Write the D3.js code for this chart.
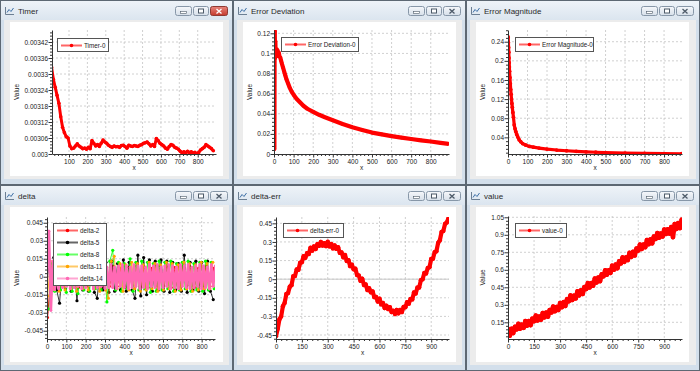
<!DOCTYPE html>
<meta charset="utf-8">
<html>
<style>
 body { margin:0; background:#fff; }
 svg { display:block; font-family:"Liberation Sans", Arial, sans-serif; }
</style>
<script src="https://d3js.org/d3.v7.min.js"></script>
<svg width="700" height="371"></svg>
<script>
// ---------- data ----------
// Timer: one sample every 10 steps starting at x=5
const timerX0 = 5, timerDX = 10;
const timerValues = [0.003325,0.00328,0.00325,0.00322,0.00319,0.00314,0.0031,0.00308,0.003065,0.00306,
 0.00303,0.00302,0.003022,0.00303,0.003038,0.00303,0.003025,0.00302,0.003022,0.003018,
 0.003025,0.00302,0.00305,0.00304,0.00303,0.003035,0.003028,0.00304,0.003052,0.003045,
 0.00304,0.003033,0.003028,0.003025,0.00303,0.003027,0.003028,0.003025,0.003032,0.003033,
 0.003028,0.003022,0.003033,0.00303,0.003028,0.003032,0.00303,0.003028,0.003033,0.003035,
 0.00304,0.003042,0.003045,0.003038,0.00303,0.003035,0.003028,0.003058,0.00305,0.00304,
 0.003035,0.00303,0.003022,0.003018,0.003028,0.003035,0.003033,0.003025,0.003022,0.003018,
 0.00301,0.003005,0.003008,0.003005,0.00301,0.003005,0.003008,0.003004,0.003006,0.003,
 0.003005,0.003015,0.00302,0.003025,0.003035,0.00303,0.003025,0.00302,0.003012];
const timerXTicks = [100,200,300,400,500,600,700,800];
const timerYTicks = [0.003,0.00306,0.00312,0.00318,0.00324,0.0033,0.00336,0.00342];

const errDevX = [1,2,3,4,5,6,7,8,9,10,12,14,16,18,20,24,28,32,36,40,46,52,58,64,72,80,90,100,
 115,130,150,170,200,230,260,300,350,400,450,500,550,600,650,700,750,800,850,890];
const errDevY = [0.118,0.005,0.11,0.122,0.095,0.105,0.112,0.098,0.104,0.1,0.097,0.104,0.1,0.103,0.099,
 0.101,0.097,0.096,0.093,0.09,0.086,0.082,0.078,0.074,0.07,0.066,0.062,0.059,
 0.055,0.052,0.048,0.045,0.042,0.039,0.0365,0.0335,0.0298,0.0265,0.0238,0.0213,0.0195,0.0178,0.0163,0.0149,
 0.0136,0.0124,0.0111,0.0101];
const errDevXTicks = [0,100,200,300,400,500,600,700,800];
const errDevYTicks = [0,0.02,0.04,0.06,0.08,0.1,0.12];

const errMagX = [1,2,3,4,5,6,7,8,10,12,14,16,18,20,22,25,28,32,36,40,45,50,57,65,75,90,110,130,160,200,
 250,300,350,400,450,500,600,700,800,890];
const errMagY = [0.25,0.238,0.228,0.218,0.206,0.196,0.187,0.178,0.165,0.152,0.14,0.13,0.12,0.111,0.103,
 0.092,0.082,0.066,0.058,0.052,0.046,0.041,0.035,0.031,0.027,0.024,0.021,0.0195,0.0175,0.0155,
 0.0135,0.012,0.0108,0.0097,0.0089,0.0082,0.0072,0.0065,0.006,0.0057];
const errMagXTicks = [0,100,200,300,400,500,600,700,800];
const errMagYTicks = [0.04,0.08,0.12,0.16,0.2,0.24];

// delta: five series, each sampled at a fixed step
const delta2X0 = 3, delta2DX = 20;
const delta2 = [-0.034,0.008,-0.009,0.007,-0.008,0.009,-0.007,0.008,-0.009,0.008,-0.008,0.009,-0.007,0.008,
 -0.009,0.007,-0.008,0.009,-0.008,0.007,-0.009,0.008,-0.007,0.009,-0.008,0.008,-0.009,0.007,-0.008,0.009,
 -0.007,0.008,-0.009,0.008,-0.008,0.009,-0.007,0.008,-0.009,0.007,-0.008,0.009,-0.008,0.007];
const delta5X0 = 5, delta5DX = 15;
const delta5 = [0.012,-0.012,0.016,-0.011,-0.022,0.011,-0.01,0.012,-0.012,0.01,-0.02,0.012,-0.011,0.013,
 -0.012,0.01,-0.013,-0.018,0.011,-0.011,0.012,-0.013,0.013,-0.012,0.011,-0.011,0.014,-0.012,0.012,-0.011,
 -0.018,0.018,-0.016,0.016,-0.015,0.014,-0.012,0.013,-0.011,0.014,-0.012,0.013,-0.013,0.012,-0.011,0.011,
 -0.012,0.018,-0.013,0.012,-0.011,0.013,-0.012,0.012,-0.014,0.013,-0.012,-0.019];
const delta8X0 = 10, delta8DX = 15;
const delta8 = [-0.027,0.011,-0.012,0.012,-0.011,0.01,-0.013,0.011,-0.012,0.012,-0.014,0.01,-0.011,0.011,
 -0.012,0.013,-0.01,0.012,-0.011,0.014,-0.021,0.013,0.022,-0.011,0.012,-0.012,0.011,-0.01,0.015,-0.012,
 0.012,-0.011,0.013,-0.01,0.012,-0.013,0.011,-0.012,0.013,-0.011,0.012,-0.01,0.013,-0.012,0.011,-0.011,
 0.012,-0.01,0.013,-0.012,0.011,-0.011,0.012,-0.012,0.013,-0.011,0.012,-0.01];
const delta11X0 = 3, delta11DX = 15;
const delta11 = [-0.016,0.013,-0.01,0.011,-0.012,0.01,-0.011,0.009,-0.01,0.011,-0.012,0.012,-0.01,0.01,
 -0.011,0.012,-0.01,0.011,-0.012,0.01,-0.011,-0.018,0.013,0.017,-0.01,0.011,-0.012,0.01,-0.011,0.012,
 -0.01,0.011,-0.012,0.01,-0.011,0.012,-0.01,0.011,-0.012,0.01,-0.011,0.012,-0.01,0.011,-0.012,0.01,
 -0.011,0.012,-0.01,0.011,-0.012,0.01,-0.011,0.012,-0.01,0.011,-0.01,0.012];
const delta14X0 = 0, delta14DX = 10;
const delta14 = [0.004,0.038,-0.028,0.013,-0.011,0.009,-0.01,0.008,-0.009,0.01,
 -0.008,0.009,-0.01,0.007,-0.009,0.01,-0.008,0.009,-0.01,0.008,
 -0.009,0.01,-0.007,0.009,-0.01,0.008,-0.009,0.011,-0.008,0.009,
 -0.01,0.008,-0.009,0.01,-0.009,0.008,-0.01,0.009,-0.008,0.01,
 -0.009,0.009,-0.01,0.008,-0.009,0.01,-0.008,0.009,-0.01,0.009,
 -0.009,0.008,-0.01,0.01,-0.008,0.009,-0.009,0.01,-0.01,0.008,
 -0.009,0.009,-0.008,0.01,-0.01,0.009,-0.009,0.008,-0.01,0.01,
 -0.008,0.009,-0.009,0.01,-0.01,0.008,-0.009,0.009,-0.008,0.01,
 -0.01,0.009,-0.009,0.008,-0.01,0.01,-0.008,0.009];
const deltaXTicks = [0,100,200,300,400,500,600,700,800];
const deltaYTicks = [-0.045,-0.03,-0.015,0,0.015,0.03,0.045];

const deltaErrX0 = 0, deltaErrDX = 10;
const deltaErr = [-0.46,-0.4,-0.322,-0.3,-0.218,-0.191,-0.12,-0.112,-0.06,-0.048,
 0.023,0.025,0.078,0.075,0.132,0.137,0.185,0.173,0.21,0.202,
 0.253,0.23,0.263,0.243,0.282,0.269,0.3,0.271,0.29,0.266,
 0.301,0.264,0.283,0.248,0.272,0.244,0.258,0.212,0.215,0.176,
 0.196,0.147,0.153,0.105,0.117,0.079,0.085,0.033,0.03,-0.013,
 0.003,-0.047,-0.042,-0.088,-0.073,-0.106,-0.098,-0.145,-0.143,-0.18,
 -0.157,-0.203,-0.192,-0.233,-0.213,-0.241,-0.225,-0.265,-0.255,-0.281,
 -0.247,-0.275,-0.247,-0.265,-0.223,-0.226,-0.185,-0.197,-0.16,-0.163,
 -0.107,-0.115,-0.067,-0.068,-0.008,-0.001,0.05,0.046,0.09,0.097,
 0.163,0.165,0.218,0.225,0.292,0.314,0.38,0.388,0.445,0.457,0.49];
const deltaErrXTicks = [0,150,300,450,600,750,900];
const deltaErrYTicks = [-0.45,-0.3,-0.15,0,0.15,0.3,0.45];

const valueX0 = 0, valueDX = 10;
const valueValues = [0.095,0.035,0.094,0.058,0.112,0.09,0.137,0.096,0.129,0.103,
 0.16,0.122,0.161,0.126,0.181,0.16,0.207,0.166,0.199,0.173,
 0.23,0.193,0.233,0.199,0.255,0.235,0.284,0.245,0.28,0.256,
 0.315,0.28,0.322,0.29,0.348,0.33,0.38,0.342,0.378,0.355,
 0.415,0.381,0.424,0.393,0.452,0.435,0.486,0.449,0.486,0.464,
 0.525,0.491,0.534,0.503,0.562,0.545,0.596,0.559,0.596,0.574,
 0.635,0.601,0.644,0.613,0.672,0.655,0.706,0.669,0.706,0.684,
 0.745,0.711,0.754,0.723,0.782,0.765,0.816,0.779,0.816,0.794,
 0.855,0.819,0.86,0.827,0.884,0.865,0.914,0.875,0.91,0.886,
 0.945,0.907,0.946,0.911,0.966,0.88,0.992,0.951,1.0,0.958,1.03];
const valueXTicks = [0,150,300,450,600,750,900];
const valueYTicks = [0.15,0.3,0.45,0.6,0.75,0.9,1.05];

// ---------- helpers ----------
const even = (x0, dx, vals) => vals.map((v,i) => [x0 + i*dx, v]);
const paired = (xs, ys) => xs.map((v,i) => [v, ys[i]]);

const panels = [
 {title:'Timer', x:0, y:0, w:233, h:185, active:true,
  plot:{left:52,right:216,top:30,bottom:154}, xDomain:[7.5,899.5], yDomain:[0.003,0.003465],
  xTicks:timerXTicks, yTicks:timerYTicks, legend:{x:57,y:38,w:52,h:14},
  series:[{name:'Timer-0', color:'#ff0000', pts:even(timerX0,timerDX,timerValues), lw:3, r:1.8}]},
 {title:'Error Deviation', x:233, y:0, w:233, h:185,
  plot:{left:41,right:216,top:30,bottom:154}, xDomain:[0,893], yDomain:[0,0.1233],
  xTicks:errDevXTicks, yTicks:errDevYTicks, legend:{x:48,y:37,w:78,h:15},
  series:[{name:'Error Deviation-0', color:'#ff0000', pts:paired(errDevX,errDevY), lw:4.2, r:1.8}]},
 {title:'Error Magnitude', x:466, y:0, w:234, h:185,
  plot:{left:42,right:216,top:30,bottom:154}, xDomain:[0,892], yDomain:[0.0052,0.2645],
  xTicks:errMagXTicks, yTicks:errMagYTicks, legend:{x:49,y:37,w:79,h:15},
  series:[{name:'Error Magnitude-0', color:'#ff0000', pts:paired(errMagX,errMagY), lw:3.2, r:1.9}]},
 {title:'delta', x:0, y:185, w:233, h:186,
  plot:{left:47,right:215,top:32,bottom:154}, xDomain:[0,869], yDomain:[-0.0519,0.0498],
  xTicks:deltaXTicks, yTicks:deltaYTicks, legend:{x:53,y:38,w:54,h:63}, zero:true,
  series:[
   {name:'delta-2', color:'#ff0000', pts:even(delta2X0,delta2DX,delta2), lw:1, r:1.5},
   {name:'delta-5', color:'#000000', pts:even(delta5X0,delta5DX,delta5), lw:0.8, r:1.6},
   {name:'delta-8', color:'#00ff00', pts:even(delta8X0,delta8DX,delta8), lw:0.8, r:1.6},
   {name:'delta-11', color:'#ffa500', pts:even(delta11X0,delta11DX,delta11), lw:0.8, r:1.5},
   {name:'delta-14', color:'#ff69b4', pts:even(delta14X0,delta14DX,delta14), lw:2.6, r:1.4}]},
 {title:'delta-err', x:233, y:185, w:233, h:186,
  plot:{left:43,right:216,top:32,bottom:154}, xDomain:[0,1003], yDomain:[-0.482,0.501],
  xTicks:deltaErrXTicks, yTicks:deltaErrYTicks, legend:{x:50,y:38,w:61,h:15}, zero:true,
  series:[{name:'delta-err-0', color:'#ff0000', pts:even(deltaErrX0,deltaErrDX,deltaErr), lw:4.2, r:2.2}]},
 {title:'value', x:466, y:185, w:234, h:186,
  plot:{left:42,right:216,top:31,bottom:154}, xDomain:[0,1002], yDomain:[0.007,1.061],
  xTicks:valueXTicks, yTicks:valueYTicks, legend:{x:49,y:38,w:52,h:15},
  series:[{name:'value-0', color:'#ff0000', pts:even(valueX0,valueDX,valueValues), lw:4.6, r:2.3}]}
];

const svg = d3.select('svg');
const defs = svg.append('defs');
const tg = defs.append('linearGradient').attr('id','titleGrad').attr('x1',0).attr('y1',0).attr('x2',0).attr('y2',1);
tg.append('stop').attr('offset','0%').attr('stop-color','#eef3f8');
tg.append('stop').attr('offset','100%').attr('stop-color','#dbe5ef');
const bg = defs.append('linearGradient').attr('id','btnGrad').attr('x1',0).attr('y1',0).attr('x2',0).attr('y2',1);
bg.append('stop').attr('offset','0%').attr('stop-color','#f6f8fb');
bg.append('stop').attr('offset','100%').attr('stop-color','#d6dfe9');
const rg = defs.append('linearGradient').attr('id','closeGrad').attr('x1',0).attr('y1',0).attr('x2',0).attr('y2',1);
rg.append('stop').attr('offset','0%').attr('stop-color','#e8867c');
rg.append('stop').attr('offset','100%').attr('stop-color','#c4392c');

// minor tick values between (and outside) the major ones
function minors(ticks, domain) {
  const step = (ticks[1]-ticks[0])/5, out = [];
  const lo = Math.min(domain[0],domain[1]), hi = Math.max(domain[0],domain[1]);
  let v = ticks[0] - step*Math.floor((ticks[0]-lo)/step);
  for (; v <= hi + 1e-12; v += step) {
    if (!ticks.some(t => Math.abs(t-v) < step*0.01)) out.push(v);
  }
  return out;
}

function button(g, x, w, kind, active) {
  const b = g.append('g').attr('transform',`translate(${x},6)`);
  const red = kind === 'close' && active;
  b.append('rect').attr('x',0.5).attr('y',0.5).attr('width',w-1).attr('height',9).attr('rx',2)
    .attr('fill', red ? 'url(#closeGrad)' : 'url(#btnGrad)')
    .attr('stroke', red ? '#8e3a33' : '#8797a8');
  const cx = w/2;
  if (kind === 'min') {
    b.append('rect').attr('x',cx-3).attr('y',5.5).attr('width',6).attr('height',2)
      .attr('fill','#fff').attr('stroke','#4d5a68').attr('stroke-width',0.6);
  } else if (kind === 'max') {
    b.append('rect').attr('x',cx-2.5).attr('y',3).attr('width',5).attr('height',4)
      .attr('fill','#fff').attr('stroke','#4d5a68').attr('stroke-width',1);
  } else {
    const c = red ? '#fff' : '#4d5a68';
    b.append('path').attr('d',`M${cx-2.5},3 L${cx+2.5},7.5 M${cx+2.5},3 L${cx-2.5},7.5`)
      .attr('stroke',c).attr('stroke-width',1.3);
  }
}

function drawPanel(c, idx) {
  const g = svg.append('g').attr('transform',`translate(${c.x},${c.y})`);
  // window chrome
  g.append('rect').attr('x',0.5).attr('y',0.5).attr('width',c.w-1).attr('height',c.h-1)
    .attr('fill','#d3dfeb').attr('stroke','#5d6873');
  g.append('rect').attr('x',1).attr('y',1).attr('width',c.w-2).attr('height',19).attr('fill','url(#titleGrad)');
  g.append('rect').attr('x',4).attr('y',20).attr('width',c.w-8).attr('height',c.h-26).attr('fill','#ececec');
  g.append('rect').attr('x',10).attr('y',22).attr('width',213).attr('height',c.h-31).attr('fill','#fff');
  // icon + title
  g.append('path').attr('d','M5.5,7 V14.5 H14').attr('fill','none').attr('stroke','#6c7f93').attr('stroke-width',1);
  g.append('path').attr('d','M7,12.5 L9,9.5 L11,11.5 L13.5,8').attr('fill','none').attr('stroke','#3d6fa6').attr('stroke-width',1);
  g.append('text').attr('x',18).attr('y',14).attr('font-size',8).attr('fill','#2a2a2a').text(c.title);
  button(g,175,17,'min',c.active);
  button(g,193,16,'max',c.active);
  button(g,210,18,'close',c.active);

  const p = c.plot;
  const x = d3.scaleLinear().domain(c.xDomain).range([p.left,p.right]);
  const y = d3.scaleLinear().domain(c.yDomain).range([p.bottom,p.top]);

  // grid
  const grid = g.append('g').attr('stroke','#c4c4c4').attr('stroke-width',0.8).attr('stroke-dasharray','2,2');
  c.xTicks.filter(t => x(t) > p.left + 1).forEach(t =>
    grid.append('line').attr('x1',x(t)).attr('x2',x(t)).attr('y1',p.top).attr('y2',p.bottom));
  c.yTicks.filter(t => y(t) < p.bottom - 1).forEach(t =>
    grid.append('line').attr('x1',p.left).attr('x2',p.right).attr('y1',y(t)).attr('y2',y(t)));
  if (c.zero) {
    g.append('line').attr('x1',p.left).attr('x2',p.right).attr('y1',y(0)).attr('y2',y(0))
      .attr('stroke','#c8c8c8').attr('stroke-width',1);
  }

  // curves
  const clipId = 'clip' + idx;
  defs.append('clipPath').attr('id',clipId).append('rect')
    .attr('x',p.left).attr('y',p.top).attr('width',p.right-p.left).attr('height',p.bottom-p.top);
  const plot = g.append('g').attr('clip-path',`url(#${clipId})`);
  const line = d3.line().x(d => x(d[0])).y(d => y(d[1]));
  c.series.forEach(s => {
    plot.append('path').datum(s.pts).attr('d',line).attr('fill','none')
      .attr('stroke',s.color).attr('stroke-width',s.lw).attr('stroke-linejoin','round');
    plot.append('g').selectAll('circle').data(s.pts).join('circle')
      .attr('cx',d => x(d[0])).attr('cy',d => y(d[1])).attr('r',s.r).attr('fill',s.color);
  });

  // axes
  const fmt = d => String(d);
  const styleAxis = a => {
    a.attr('font-size',6.5).attr('font-family','"Liberation Sans", Arial, sans-serif');
    a.selectAll('path.domain').attr('stroke','#333');
    a.selectAll('line').attr('stroke','#333');
    a.selectAll('text').attr('fill','#222');
  };
  g.append('g').attr('transform',`translate(${p.left},0)`)
    .call(d3.axisLeft(y).tickValues(minors(c.yTicks,c.yDomain)).tickSize(2).tickSizeOuter(0).tickFormat(''))
    .call(a => a.select('.domain').remove()).call(styleAxis);
  g.append('g').attr('transform',`translate(0,${p.bottom})`)
    .call(d3.axisBottom(x).tickValues(minors(c.xTicks,c.xDomain)).tickSize(2).tickSizeOuter(0).tickFormat(''))
    .call(a => a.select('.domain').remove()).call(styleAxis);
  g.append('g').attr('transform',`translate(${p.left},0)`)
    .call(d3.axisLeft(y).tickValues(c.yTicks).tickSize(3.5).tickSizeOuter(0).tickPadding(0.5).tickFormat(fmt))
    .call(styleAxis);
  g.append('g').attr('transform',`translate(0,${p.bottom})`)
    .call(d3.axisBottom(x).tickValues(c.xTicks).tickSize(3.5).tickSizeOuter(0).tickPadding(1.5).tickFormat(fmt))
    .call(styleAxis);

  // axis titles
  g.append('text').attr('transform',`translate(19,${(p.top+p.bottom)/2}) rotate(-90)`)
    .attr('text-anchor','middle').attr('font-size',6.5).attr('fill','#222').text('Value');
  g.append('text').attr('x',(p.left+p.right)/2).attr('y',170)
    .attr('text-anchor','middle').attr('font-size',6.5).attr('fill','#222').text('x');

  // legend
  const L = c.legend;
  const lg = g.append('g').attr('transform',`translate(${L.x},${L.y})`);
  lg.append('rect').attr('x',0.5).attr('y',0.5).attr('width',L.w-1).attr('height',L.h-1)
    .attr('fill','#fff').attr('stroke','#555');
  c.series.forEach((s,i) => {
    const cy = 7.5 + i*12;
    lg.append('line').attr('x1',4).attr('x2',25).attr('y1',cy).attr('y2',cy)
      .attr('stroke',s.color).attr('stroke-width',2).attr('stroke-opacity',0.6);
    lg.append('circle').attr('cx',14.5).attr('cy',cy).attr('r',1.8).attr('fill',s.color);
    lg.append('text').attr('x',27).attr('y',cy+2.2).attr('font-size',6.3).attr('fill','#222').text(s.name);
  });
}

panels.forEach(drawPanel);
</script>
</html>
